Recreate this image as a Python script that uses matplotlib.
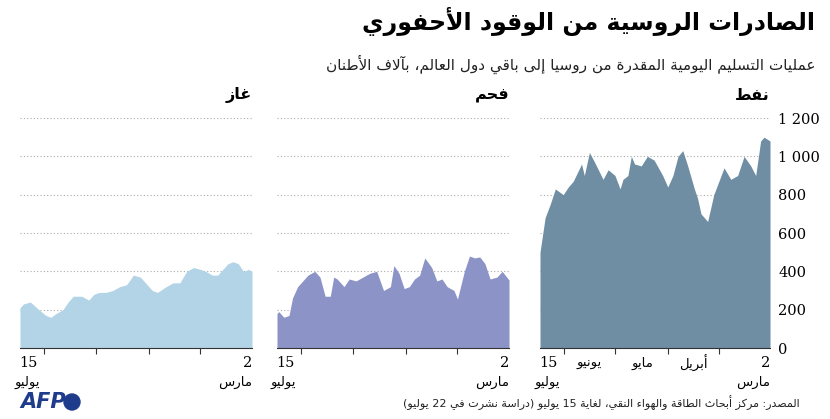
import matplotlib
matplotlib.use("Agg")
import matplotlib.pyplot as plt
import numpy as np
import re

# ---------- minimal Arabic shaping (presentation forms) + RTL ----------
FORMS = {
 'ء':(0xFE80,0),'آ':(0xFE81,2),'أ':(0xFE83,2),'ؤ':(0xFE85,2),'إ':(0xFE87,2),'ئ':(0xFE89,4),
 'ا':(0xFE8D,2),'ب':(0xFE8F,4),'ة':(0xFE93,2),'ت':(0xFE95,4),'ث':(0xFE99,4),'ج':(0xFE9D,4),
 'ح':(0xFEA1,4),'خ':(0xFEA5,4),'د':(0xFEA9,2),'ذ':(0xFEAB,2),'ر':(0xFEAD,2),'ز':(0xFEAF,2),
 'س':(0xFEB1,4),'ش':(0xFEB5,4),'ص':(0xFEB9,4),'ض':(0xFEBD,4),'ط':(0xFEC1,4),'ظ':(0xFEC5,4),
 'ع':(0xFEC9,4),'غ':(0xFECD,4),'ف':(0xFED1,4),'ق':(0xFED5,4),'ك':(0xFED9,4),'ل':(0xFEDD,4),
 'م':(0xFEE1,4),'ن':(0xFEE5,4),'ه':(0xFEE9,4),'و':(0xFEED,2),'ى':(0xFEEF,2),'ي':(0xFEF1,4)}
LAMALEF = {'آ':0xFEF5,'أ':0xFEF7,'إ':0xFEF9,'ا':0xFEFB}

def ar(s):
    s = s.replace('\u064f', '')
    out = []
    chars = list(s)
    i = 0
    n = len(chars)
    def joins_left(c):
        return c in FORMS and FORMS[c][1] == 4
    while i < n:
        c = chars[i]
        if c not in FORMS:
            out.append(c); i += 1; continue
        prev = chars[i-1] if i > 0 else ''
        cp = joins_left(prev) and not (out and out[-1] == '\x00')
        if c == 'ل' and i+1 < n and chars[i+1] in LAMALEF:
            out.append(chr(LAMALEF[chars[i+1]] + (1 if cp else 0)))
            out.append('\x00')
            i += 2; continue
        base, kind = FORMS[c]
        nxt = chars[i+1] if i+1 < n else ''
        cn = kind == 4 and nxt in FORMS
        if kind == 0:
            f = base
        elif cp and cn: f = base+3
        elif cp: f = base+1
        elif cn: f = base+2
        else: f = base
        out.append(chr(f)); i += 1
    txt = ''.join(out).replace('\x00', '')
    r = txt[::-1]
    r = re.sub(r'[0-9][0-9 ]*[0-9]|[0-9]', lambda m: m.group(0)[::-1], r)
    r = r.translate(str.maketrans('()', ')('))
    return r

AF = "DejaVu Sans"

# ---------- data (days since 2 March, thousand tonnes/day) ----------
oil_days = [0,3.5,5.5,8.4,11.3,15.2,19,23,27,33,36.6,40.5,42.5,44.4,48.3,51.2,54,57,60,63,68,72,75.6,79.5,81.4,83.4,86.3,88,91,95,98,103,106,109,110.6,115.5,118.4,121.4,126,129,132,135]
oil_vals = [1080,1100,1080,900,950,1000,900,880,940,800,660,700,780,830,950,1030,1000,900,840,900,980,1000,950,960,1000,900,880,830,900,930,880,970,1020,900,960,870,840,800,830,750,680,500]
coal_days = [0,4,7,11,14,17,20,23,26,30,32,36,39,42,45,49,52,55,58,61,64,67,69,73,77,81,85,89,93,96,100,102,104,107,110,113,117,123,126,128,131,134,135]
coal_vals = [355,400,370,360,440,475,470,480,400,255,300,320,360,350,420,470,380,360,320,310,390,430,320,300,400,390,370,350,360,320,360,370,270,270,370,400,380,320,260,170,160,190,180]
gas_days = [0,2,5,8,11,14,17,20,23,27,30,34,38,42,46,50,55,58,61,65,69,73,77,81,85,89,92,95,99,104,107,110,114,117,120,124,129,133,135]
gas_vals = [400,410,400,440,450,440,410,380,380,400,410,420,400,340,340,320,290,300,330,370,380,330,320,300,290,290,280,250,270,270,240,200,180,160,170,200,240,230,210]

month_ticks = [30, 60, 91, 121]           # 1 Apr, 1 May, 1 Jun, 1 Jul
month_label_pos = [45, 75, 106]
month_labels = ["أبريل", "مايو", "يونيو"]
panel_titles = ["نفط", "فحم", "غاز"]
yticks = [0, 200, 400, 600, 800, 1000, 1200]

fig = plt.figure(figsize=(8.3, 4.19), dpi=100)
W, H = 830, 419
def ax_at(x0, x1, y0, y1):
    return fig.add_axes([x0/W, 1-y1/H, (x1-x0)/W, (y1-y0)/H])

def yfrac(py):
    return (348 - py) / 230.0

panels = [
    (540, 770, oil_days, oil_vals, "#6f8ea3", panel_titles[0], True),
    (277, 509, coal_days, coal_vals, "#8c93c6", panel_titles[1], False),
    (20, 252, gas_days, gas_vals, "#b3d4e6", panel_titles[2], False),
]
for x0, x1, d, v, col, title, oil in panels:
    ax = ax_at(x0, x1, 118, 348)
    ax.fill_between(d, v, 0, color=col, lw=0, zorder=2)
    ax.set_xlim(135, 0)
    ax.set_ylim(0, 1200)
    for yv in yticks[1:]:
        ax.axhline(yv, color="#aaaaaa", lw=0.8, ls=(0, (1, 2)), zorder=1)
    for s in ["top", "left", "right"]:
        ax.spines[s].set_visible(False)
    ax.spines["bottom"].set_color("#333333")
    ax.spines["bottom"].set_linewidth(0.8)
    ax.set_xticks(month_ticks)
    ax.set_xticklabels([])
    ax.tick_params(axis="x", length=4, direction="out", color="#333333")
    ax.set_yticks([])
    tr = ax.get_xaxis_transform()
    px = 135.0 / (x1 - x0)
    ax.text(135 - 8*px, yfrac(363), "15", transform=tr, ha="center", va="center", fontsize=10.5, family="DejaVu Serif")
    ax.text(135 + 6*px, yfrac(382), ar("يوليو"), transform=tr, ha="left", va="center", fontsize=9.5, family=AF)
    ax.text(4*px, yfrac(363), "2", transform=tr, ha="center", va="center", fontsize=10.5, family="DejaVu Serif")
    ax.text(0, yfrac(382), ar("مارس"), transform=tr, ha="right", va="center", fontsize=9.5, family=AF)
    if oil:
        for p, lab in zip(month_label_pos, month_labels):
            ax.text(p, yfrac(363), ar(lab), transform=tr, ha="center", va="center", fontsize=9.5, family=AF)
        ax.yaxis.tick_right()
        ax.set_yticks(yticks)
        ax.set_yticklabels([f"{y:,}".replace(",", " ") for y in yticks], fontsize=10.5, family="DejaVu Serif")
        ax.tick_params(axis="y", length=0, pad=6)
    ax.text(1.0, yfrac(95), ar(title), transform=ax.transAxes, ha="right", va="center",
            fontsize=11.5, fontweight="bold", family=AF)

fig.text(815/W, 1-22/H, ar("الصادرات الروسية من الوقود الأحفوري"), ha="right", va="center",
         fontsize=17, fontweight="bold", family=AF)
fig.text(815/W, 1-64/H, ar("عمليات التسليم اليومية المقدرة من روسيا إلى باقي دول العالم، بآلاف الأطنان"),
         ha="right", va="center", fontsize=11, family=AF, color="#222222")
fig.text(800/W, 1-403/H, ar("المصدر: مركز أبحاث الطاقة والهواء النقي، لغاية 15 يوليو (دراسة نُشرت في 22 يوليو)"),
         ha="right", va="center", fontsize=8, family=AF, color="#222222")
fig.text(20/W, 1-402/H, "AFP", ha="left", va="center", fontsize=15, fontweight="bold",
         fontstyle="italic", color="#1f3b8c", family="DejaVu Sans")
fig.patches.append(matplotlib.patches.Ellipse((72/W, 1-402/H), 16/W, 16/H, transform=fig.transFigure,
                                              color="#1f3b8c"))
fig.savefig("out.png", dpi=100, facecolor="white")
